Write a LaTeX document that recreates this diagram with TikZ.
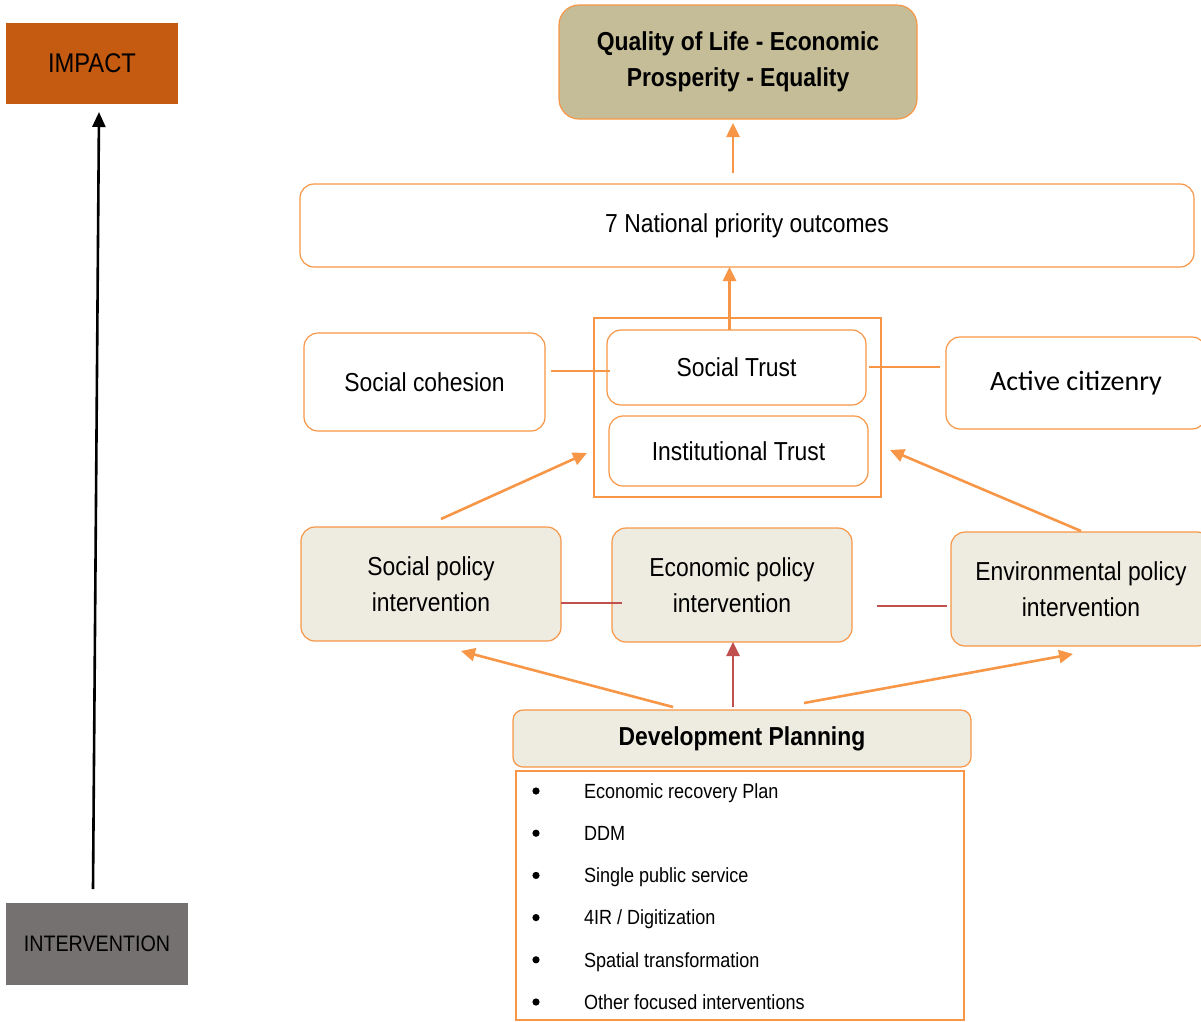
\documentclass[tikz,border=0pt]{standalone}
\usepackage{fontspec}
\setmainfont{Liberation Sans}[FakeStretch=0.88]
\newfontfamily\calibri{Carlito}
\usetikzlibrary{arrows.meta}
\definecolor{boxorange}{HTML}{F79646}
\definecolor{linkred}{HTML}{C0504D}
\definecolor{impactfill}{HTML}{C55A11}
\definecolor{interfill}{HTML}{767171}
\definecolor{qualityfill}{HTML}{C4BD97}
\definecolor{paleback}{HTML}{EEECE1}
\newcommand{\mainsize}{\fontsize{26}{36}\selectfont}
\newcommand{\listsize}{\fontsize{20.5}{24}\selectfont}

\begin{document}
\begin{tikzpicture}[x=1pt,y=-1pt]
  \tikzset{
    every node/.style={inner sep=0pt,outer sep=0pt},
    rbox/.style={draw=boxorange,line width=1.2pt,rounded corners=14pt,fill=white,align=center,font=\mainsize},
    polbox/.style={rbox,fill=paleback},
    tagbox/.style={align=center},
    link/.style={draw=boxorange,line width=1.4pt},
    redlink/.style={draw=linkred,line width=2pt},
    orarrow/.style={draw=boxorange,line width=2.6pt,-{Triangle[length=14pt,width=13pt]}},
    redarrow/.style={draw=linkred,line width=2.6pt,-{Triangle[length=14pt,width=13pt]}},
    listitem/.style={anchor=base west,font=\listsize}
  }
  \useasboundingbox (0,0) rectangle (1201,1021);

  % left scale
  \node[tagbox,fill=impactfill,minimum width=172pt,minimum height=81pt,font=\fontsize{27}{30}\selectfont] (impact) at (92,63.5) {IMPACT};
  \node[tagbox,fill=interfill,minimum width=182pt,minimum height=82pt,font=\fontsize{22.4}{25}\selectfont] (intervention) at (97,944) {INTERVENTION};
  \draw[line width=2.6pt,-{Triangle[length=15pt,width=13pt]}] ([xshift=-4pt,yshift=14pt]intervention.north) -- ([xshift=7pt,yshift=-8pt]impact.south);

  % outcomes
  \node[rbox,fill=qualityfill,rounded corners=20pt,minimum width=358pt,minimum height=114pt,font=\bfseries\mainsize] (quality) at (738,62) {Quality of Life - Economic\\Prosperity - Equality};
  \node[rbox,minimum width=894pt,minimum height=83pt] (outcomes) at (747,225.5) {7 National priority outcomes};

  % trust
  \node[draw=boxorange,line width=1.2pt,minimum width=287pt,minimum height=179pt] (trustgroup) at (737.5,407.5) {};
  \node[rbox,minimum width=259pt,minimum height=75pt] (socialtrust) at (736.5,367.5) {Social Trust};
  \node[rbox,minimum width=259pt,minimum height=70pt] (insttrust) at (738.5,451) {Institutional Trust};
  \node[rbox,minimum width=241pt,minimum height=98pt] (cohesion) at (424.5,382) {Social cohesion};
  \node[rbox,minimum width=260pt,minimum height=92pt,font=\calibri\fontsize{28}{30}\selectfont] (citizenry) at (1076,383) {Active citizenry};

  % policy
  \node[polbox,minimum width=260pt,minimum height=114pt] (socpol) at (431,584) {Social policy\\intervention};
  \node[polbox,minimum width=240pt,minimum height=114pt] (econpol) at (732,585) {Economic policy\\intervention};
  \node[polbox,minimum width=260pt,minimum height=114pt] (envpol) at (1081,589) {Environmental policy\\intervention};

  % planning
  \node[polbox,rounded corners=10pt,minimum width=458pt,minimum height=57pt,font=\bfseries\fontsize{26}{30}\selectfont] (devplan) at (742,738.5) {Development Planning};
  \node[draw=boxorange,line width=1.2pt,minimum width=448pt,minimum height=249pt] (planlist) at (740,895.5) {};
  \foreach \txt [count=\i] in {Economic recovery Plan, DDM, Single public service, 4IR / Digitization, Spatial transformation, Other focused interventions} {
    \fill (536,748.8+42.2*\i) circle (3.6pt);
    \node[listitem] (item\i) at (584,756+42.2*\i) {\txt};
  }

  % connectors
  \draw[orarrow,shorten <=11pt,shorten >=4pt] ([xshift=-5pt]quality.south |- outcomes.north) -- ([xshift=-5pt]quality.south);
  \draw[orarrow] ([xshift=-7pt]socialtrust.north) -- ([xshift=-7pt]socialtrust.north |- outcomes.south);
  \draw[link,shorten <=6pt,shorten >=-3pt] ([yshift=11pt]cohesion.east) -- ([yshift=11pt]cohesion.east -| socialtrust.west);
  \draw[link,shorten <=3pt,shorten >=6pt] ([yshift=0.5pt]socialtrust.east) -- ([yshift=0.5pt]socialtrust.east -| citizenry.west);
  \draw[orarrow] ([xshift=10pt,yshift=8pt]socpol.north) -- ([xshift=-7pt,yshift=-45.5pt]trustgroup.west);
  \draw[orarrow] ([yshift=1pt]envpol.north) -- ([xshift=9pt,yshift=-42.5pt]trustgroup.east);
  \draw[redlink,shorten >=-10pt] ([yshift=-19pt]socpol.east) -- ([yshift=-19pt]socpol.east -| econpol.west);
  \draw[redlink,shorten <=25pt,shorten >=4pt] ([yshift=-21pt]econpol.east) -- ([yshift=-21pt]econpol.east -| envpol.west);
  \draw[orarrow] ([xshift=-69pt,yshift=3pt]devplan.north) -- ([xshift=30pt,yshift=-10pt]socpol.south);
  \draw[redarrow] ([xshift=-9pt,yshift=3pt]devplan.north) -- ([xshift=1pt]econpol.south);
  \draw[orarrow] ([xshift=62pt,yshift=7pt]devplan.north) -- ([xshift=-8pt,yshift=-8pt]envpol.south);
\end{tikzpicture}
\end{document}
